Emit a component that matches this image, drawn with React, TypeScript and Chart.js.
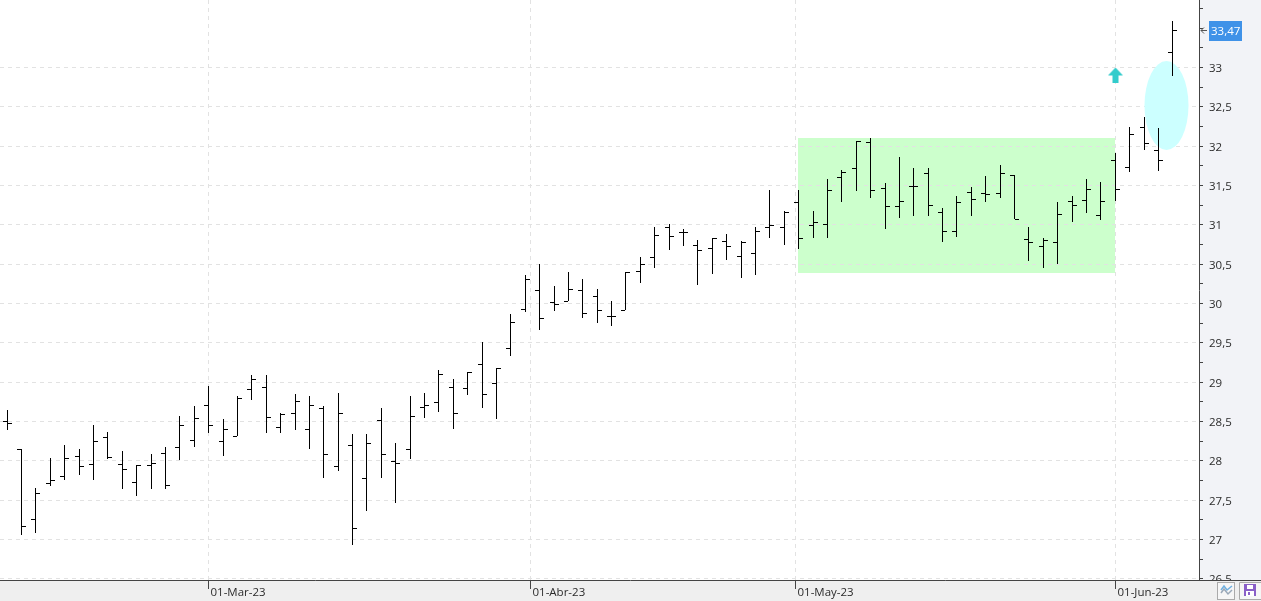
import React, { useEffect, useRef } from "react";
import { Chart, LinearScale, registerables } from "chart.js";

const opens = [28.50,28.14,27.25,27.71,27.80,28.05,27.95,28.30,27.95,27.72,27.94,28.09,28.17,28.26,28.70,28.25,28.31,28.91,28.93,28.42,28.60,28.40,28.67,27.93,28.20,27.78,28.51,27.99,28.14,28.68,28.74,28.93,28.92,29.22,28.98,29.43,29.92,30.17,30.01,30.03,30.17,30.09,29.83,29.91,30.41,30.58,30.97,30.90,30.74,30.70,30.79,30.60,30.64,30.97,30.97,31.28,30.99,31.00,31.60,31.72,32.05,31.46,31.23,31.49,31.65,31.16,30.92,31.41,31.40,31.40,31.63,30.81,30.72,30.78,31.30,31.31,31.12,31.82,31.73,32.24,31.94,33.19];
const highs = [28.64,28.15,27.65,28.03,28.19,28.15,28.45,28.36,28.12,27.94,28.08,28.17,28.56,28.69,28.94,28.52,28.82,29.08,29.08,28.60,28.84,28.82,28.69,28.85,28.33,28.33,28.67,28.22,28.82,28.86,29.15,29.03,29.12,29.50,29.17,29.86,30.35,30.50,30.21,30.39,30.30,30.18,30.03,30.39,30.58,30.96,31.00,30.94,30.80,30.83,30.88,30.79,30.97,31.44,31.17,31.44,31.17,31.58,31.69,32.06,32.10,31.53,31.86,31.71,31.71,31.21,31.36,31.48,31.62,31.75,31.63,30.97,30.83,31.29,31.36,31.58,31.54,31.91,32.24,32.36,32.23,33.59];
const lows = [28.39,27.05,27.07,27.67,27.75,27.81,27.75,28.02,27.63,27.55,27.64,27.64,28.00,28.17,28.35,28.06,28.31,28.77,28.35,28.35,28.39,28.14,27.77,27.87,26.92,27.36,27.77,27.46,28.02,28.54,28.62,28.40,28.83,28.67,28.52,29.32,29.89,29.66,29.90,30.02,29.81,29.75,29.71,29.91,30.25,30.45,30.67,30.72,30.23,30.37,30.55,30.32,30.35,30.82,30.74,30.68,30.83,30.82,31.29,31.42,31.33,30.94,31.08,31.10,31.10,30.78,30.84,31.11,31.29,31.33,31.07,30.53,30.44,30.50,31.03,31.15,31.06,31.30,31.67,31.94,31.68,32.88];
const closes = [28.47,27.17,27.58,27.75,28.03,27.93,28.25,28.04,27.89,27.94,27.97,27.69,28.45,28.54,28.45,28.40,28.79,29.03,28.55,28.59,28.75,28.70,28.08,28.60,27.14,28.22,28.08,27.97,28.56,28.70,29.10,28.60,29.12,28.84,29.17,29.76,30.31,29.81,29.99,30.18,29.87,29.91,29.83,30.39,30.50,30.86,30.85,30.90,30.67,30.83,30.72,30.78,30.92,30.99,31.16,30.83,31.03,31.44,31.67,32.06,31.44,31.23,31.30,31.49,31.25,30.92,31.28,31.32,31.39,31.65,31.07,30.78,30.80,31.13,31.25,31.45,31.30,31.45,32.15,32.04,31.82,33.47];

const priceTicks = [26.5,27,27.5,28,28.5,29,29.5,30,30.5,31,31.5,32,32.5,33];
const priceLabels = ["26,5","27","27,5","28","28,5","29","29,5","30","30,5","31","31,5","32","32,5","33"];
const minorTicks = [26.75,27.25,27.75,28.25,28.75,29.25,29.75,30.25,30.75,31.25,31.75,32.25,32.75,33.25,33.5,33.75];
const dateTicks = [14, 36.35, 54.8, 77];
const dateLabels = ["01-Mar-23","01-Abr-23","01-May-23","01-Jun-23"];

const lastPrice = 33.47;
const lastPriceLabel = "33,47";
const zoneX = [55, 77];
const zoneY = [30.376, 32.1];
const ellipseX = [79.05, 82.09];
const ellipseY = [31.95, 33.08];
const signalPoint = { x: 77, y: 32.896 };

const FONT = "11.5px 'Open Sans'";

class PixelScale extends LinearScale {
  static id = "pixelLinear";
  getPixelForValue(v: number) {
    const p = super.getPixelForValue(v);
    return this.isHorizontal() ? Math.floor(p) + 0.5 : Math.floor(p);
  }
}

Chart.register(...registerables, PixelScale);

function tickImage(side: "left" | "right") {
  const c = document.createElement("canvas");
  c.width = 9;
  c.height = 2;
  const g = c.getContext("2d")!;
  g.fillStyle = "#000";
  g.fillRect(side === "left" ? 0 : 5, 1, 4, 1);
  return c;
}

function arrowImage() {
  const c = document.createElement("canvas");
  c.width = 15;
  c.height = 15;
  const g = c.getContext("2d")!;
  g.fillStyle = "#33cccc";
  g.beginPath();
  g.moveTo(7.5, 0);
  g.lineTo(15, 8);
  g.lineTo(10.5, 8);
  g.lineTo(10.5, 15);
  g.lineTo(4.5, 15);
  g.lineTo(4.5, 8);
  g.lineTo(0, 8);
  g.closePath();
  g.fill();
  return c;
}

const decor = {
  id: "decor",
  beforeDraw(chart: any) {
    const { ctx, chartArea: a, scales, width } = chart;
    ctx.save();
    ctx.fillStyle = "#ffffff";
    ctx.fillRect(0, 0, a.right, a.bottom);
    ctx.fillStyle = "#f2f3f7";
    ctx.fillRect(a.right, 0, width - a.right, a.bottom);
    const x0 = Math.floor(scales.x.getPixelForValue(zoneX[0]));
    const x1 = Math.floor(scales.x.getPixelForValue(zoneX[1]));
    const y0 = scales.y.getPixelForValue(zoneY[1]);
    const y1 = scales.y.getPixelForValue(zoneY[0]);
    ctx.fillStyle = "#ccffcc";
    ctx.fillRect(x0, y0, x1 - x0, y1 - y0);
    ctx.restore();
  },
  beforeDatasetsDraw(chart: any) {
    const { ctx, scales } = chart;
    const l = scales.x.getPixelForValue(ellipseX[0]);
    const r = scales.x.getPixelForValue(ellipseX[1]);
    const t = scales.y.getPixelForValue(ellipseY[1]);
    const b = scales.y.getPixelForValue(ellipseY[0]);
    ctx.save();
    ctx.fillStyle = "#ccffff";
    ctx.beginPath();
    ctx.ellipse((l + r) / 2, (t + b) / 2, (r - l) / 2, (b - t) / 2, 0, 0, Math.PI * 2);
    ctx.fill();
    ctx.restore();
  },
  afterDatasetsDraw(chart: any) {
    const { ctx, chartArea: a, scales, width, height } = chart;
    ctx.save();
    ctx.fillStyle = "#efefef";
    ctx.fillRect(0, a.bottom, width, height - a.bottom);
    ctx.strokeStyle = "#444";
    ctx.lineWidth = 1;
    ctx.beginPath();
    ctx.moveTo(0, a.bottom + 0.5);
    ctx.lineTo(width, a.bottom + 0.5);
    dateTicks.forEach((v) => {
      const x = scales.x.getPixelForValue(v);
      ctx.moveTo(x, a.bottom);
      ctx.lineTo(x, a.bottom + 9);
    });
    ctx.stroke();
    ctx.restore();
  },
  afterDraw(chart: any) {
    const { ctx, chartArea: a, scales, width } = chart;
    const y = scales.y.getPixelForValue(lastPrice);
    ctx.save();
    ctx.fillStyle = "#3f92e8";
    ctx.fillRect(1209, y - 9, 33, 20);
    ctx.fillStyle = "#ffffff";
    ctx.font = FONT;
    ctx.textBaseline = "middle";
    ctx.textAlign = "left";
    ctx.fillText(lastPriceLabel, 1211, y + 1.5);
    ctx.strokeStyle = "#555";
    ctx.lineWidth = 1;
    ctx.beginPath();
    ctx.moveTo(a.right + 2, y + 0.5);
    ctx.lineTo(a.right + 8, y + 0.5);
    ctx.moveTo(a.right + 5, y - 2.5);
    ctx.lineTo(a.right + 2, y + 0.5);
    ctx.lineTo(a.right + 5, y + 3.5);
    ctx.stroke();

    // chart-type button
    ctx.fillStyle = "#f6f6f6";
    ctx.strokeStyle = "#aaaaaa";
    ctx.fillRect(1217.5, 582.5, 17, 17);
    ctx.strokeRect(1217.5, 582.5, 17, 17);
    ctx.lineWidth = 1.5;
    ctx.strokeStyle = "#6fb0e0";
    ctx.beginPath();
    ctx.moveTo(1221, 590); ctx.lineTo(1224, 586); ctx.lineTo(1227, 590); ctx.lineTo(1232, 586);
    ctx.stroke();
    ctx.strokeStyle = "#9aa8b8";
    ctx.beginPath();
    ctx.moveTo(1221, 593); ctx.lineTo(1224, 589); ctx.lineTo(1228, 594); ctx.lineTo(1232, 590);
    ctx.stroke();
    ctx.lineWidth = 1;

    // save button, open to the window's right edge
    ctx.fillStyle = "#f6f6f6";
    ctx.strokeStyle = "#aaaaaa";
    ctx.fillRect(1239.5, 582.5, width - 1239.5, 17);
    ctx.beginPath();
    ctx.moveTo(width, 582.5);
    ctx.lineTo(1239.5, 582.5);
    ctx.lineTo(1239.5, 599.5);
    ctx.lineTo(width, 599.5);
    ctx.stroke();
    ctx.fillStyle = "#8a5fc8";
    ctx.fillRect(1244, 584, 12, 12);
    ctx.fillStyle = "#ffffff";
    ctx.fillRect(1247, 585, 6, 4);
    ctx.fillRect(1246, 591, 8, 5);
    ctx.fillStyle = "#8a5fc8";
    ctx.fillRect(1248, 592, 2, 3);
    ctx.restore();
  },
};

const noPad = (s: any) => {
  s.paddingTop = 0;
  s.paddingBottom = 0;
  s.paddingLeft = 0;
  s.paddingRight = 0;
};

export default function App() {
  const ref = useRef<HTMLCanvasElement>(null);
  useEffect(() => {
    const chart = new Chart(ref.current!, {
      type: "scatter",
      data: {
        datasets: [
          {
            type: "scatter",
            label: "Señal",
            data: [signalPoint],
            pointStyle: arrowImage() as any,
            pointRadius: 8,
            order: 0,
          },
          {
            type: "scatter",
            label: "Apertura",
            data: opens.map((y, x) => ({ x, y })),
            pointStyle: tickImage("left") as any,
            pointRadius: 4,
            order: 1,
          },
          {
            type: "scatter",
            label: "Cierre",
            data: closes.map((y, x) => ({ x, y })),
            pointStyle: tickImage("right") as any,
            pointRadius: 4,
            order: 1,
          },
          {
            type: "bar",
            label: "Rango",
            data: highs.map((h, x) => ({ x, y: [lows[x], h] })) as any,
            backgroundColor: "#000000",
            borderWidth: 0,
            barThickness: 1,
            inflateAmount: 0,
            order: 2,
          } as any,
        ],
      },
      options: {
        animation: false,
        responsive: false,
        events: [],
        layout: { autoPadding: false, padding: 0 },
        plugins: { legend: { display: false }, tooltip: { enabled: false }, title: { display: false } },
        scales: {
          x: {
            type: "pixelLinear" as any,
            min: -0.5,
            max: 82.82,
            offset: false,
            afterFit: (s: any) => { s.height = 21; noPad(s); },
            afterBuildTicks: (s: any) => { s.ticks = dateTicks.map((value) => ({ value })); },
            grid: {
              color: "#e2e2e2",
              drawTicks: false,
              tickLength: 0,
              offset: false,
            },
            border: { display: false, dash: [4, 4] },
            ticks: {
              z: 1,
              autoSkip: false,
              maxRotation: 0,
              minRotation: 0,
              align: "start",
              labelOffset: 2,
              padding: 6,
              color: "#2b2b2b",
              font: { family: "'Open Sans'", size: 11.5 },
              callback: (v: any) => dateLabels[dateTicks.indexOf(v)] ?? "",
            },
          } as any,
          y: {
            type: "pixelLinear" as any,
            position: "right",
            min: 26.485,
            max: 33.858,
            afterFit: (s: any) => { s.width = 62; noPad(s); },
            afterBuildTicks: (s: any) => {
              s.ticks = [...priceTicks, ...minorTicks].sort((a, b) => a - b).map((value) => ({ value }));
            },
            grid: {
              color: (c: any) => (priceTicks.includes(c.tick?.value) ? "#e2e2e2" : "rgba(0,0,0,0)"),
              tickColor: "#444444",
              tickLength: 4,
              tickWidth: 1,
            },
            border: { display: true, color: "#444444", width: 1, dash: [4, 4] },
            ticks: {
              autoSkip: false,
              padding: 6,
              labelOffset: 1.5,
              color: "#2b2b2b",
              font: { family: "'Open Sans'", size: 11.5 },
              callback: (v: any) => priceLabels[priceTicks.indexOf(v)] ?? "",
            },
          } as any,
        },
      },
      plugins: [decor],
    });
    return () => chart.destroy();
  }, []);
  return (
    <div style={{ position: "fixed", left: 0, top: 0, width: 1261, height: 601 }}>
      <canvas ref={ref} width={1261} height={601} style={{ display: "block" }} />
    </div>
  );
}
